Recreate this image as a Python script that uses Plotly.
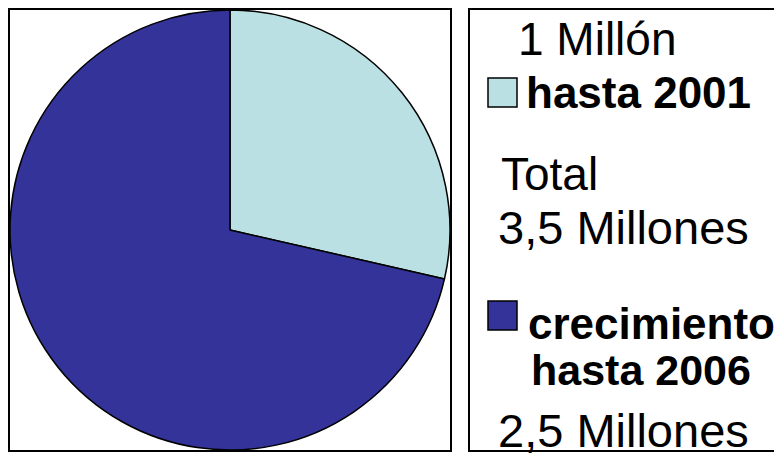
import plotly.graph_objects as go

W, H = 782, 454
O = 8  # page body margin offset in the browser

# data
labels = ["hasta 2001", "crecimiento hasta 2006"]
values = [1.0, 2.5]          # millones
colors = ["#BBE0E3", "#333399"]
total_label = ["Total", "3,5 Millones"]
value_labels = ["1 Millón", "2,5 Millones"]

def px(x):
    return (x - O) / W

def py(y):
    return 1 - (y - O) / H

fig = go.Figure()
fig.add_trace(go.Pie(
    labels=labels,
    values=values,
    sort=False,
    direction="clockwise",
    rotation=0,
    marker=dict(colors=colors, line=dict(color="black", width=1.5)),
    textinfo="none",
    hoverinfo="label+value",
    showlegend=False,
    domain=dict(x=[px(10), px(450)], y=[py(450), py(10)]),
))

shapes = [
    dict(type="rect", xref="paper", yref="paper", x0=px(9), x1=px(451), y0=py(451), y1=py(9),
         line=dict(color="black", width=2), fillcolor="rgba(0,0,0,0)", layer="below"),
    dict(type="rect", xref="paper", yref="paper", x0=px(469), x1=px(820), y0=py(451), y1=py(9),
         line=dict(color="black", width=2), fillcolor="rgba(0,0,0,0)", layer="below"),
    dict(type="rect", xref="paper", yref="paper", x0=px(488), x1=px(517), y0=py(107), y1=py(78),
         line=dict(color="black", width=1.5), fillcolor=colors[0]),
    dict(type="rect", xref="paper", yref="paper", x0=px(488), x1=px(517), y0=py(330), y1=py(301),
         line=dict(color="black", width=1.5), fillcolor=colors[1]),
]

FONT = "Arial, Liberation Sans, sans-serif"
REG, BIG, BOLD = 46, 47, 44

def ann(text, x, yc, size, bold=False):
    return dict(text=f"<b>{text}</b>" if bold else text, xref="paper", yref="paper",
                x=px(x), y=py(yc), xanchor="left", yanchor="middle", showarrow=False,
                borderpad=0, font=dict(family=FONT, size=size, color="black"))

annotations = [
    ann(value_labels[0], 517, 39, REG),
    ann(labels[0], 525, 92, BOLD, True),
    ann(total_label[0], 500, 174, REG),
    ann(total_label[1], 497, 227, BIG),
    ann("crecimiento", 527, 323, BOLD, True),
    ann("hasta 2006", 530, 370, 43, True),
    ann(value_labels[1], 497, 430, BIG),
]

fig.update_layout(
    width=W, height=H,
    margin=dict(l=0, r=0, t=0, b=0),
    paper_bgcolor="white", plot_bgcolor="white",
    shapes=shapes, annotations=annotations,
)

fig.write_html("out.html")
